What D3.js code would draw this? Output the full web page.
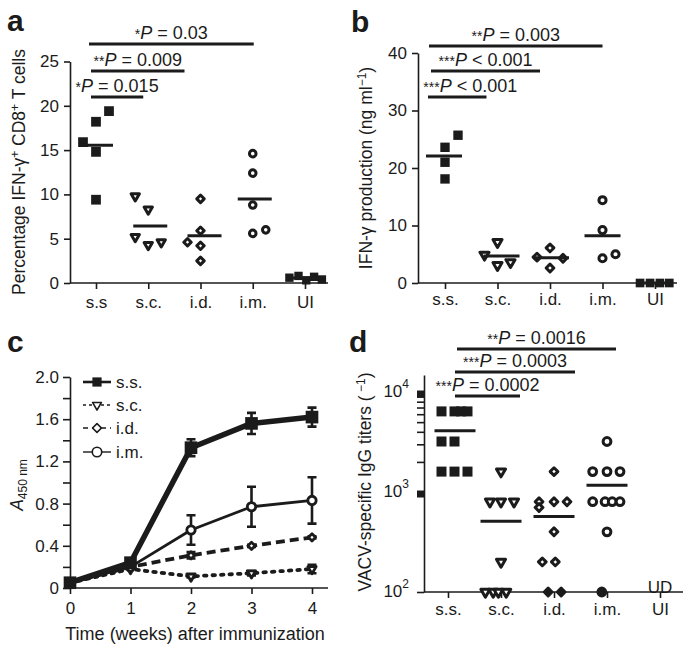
<!DOCTYPE html>
<html>
<head>
<meta charset="utf-8">
<script src="https://cdn.jsdelivr.net/npm/d3@7"></script>
<style>
  body { margin: 0; background: #fff; }
  svg { font-family: "Liberation Sans", Arial, Helvetica, sans-serif; }
</style>
</head>
<body>
<div id="wrapper"></div>
<script>
// ---------- data ----------
const catsA = ["s.s", "s.c.", "i.d.", "i.m.", "UI"]
const cats = ["s.s.", "s.c.", "i.d.", "i.m.", "UI"]

// a: percentage IFN-g+ CD8+ T cells
const pctSS = [15.9, 14.8, 18.2, 19.4, 9.4]
const pctSC = [9.8, 8.3, 5.2, 4.3, 4.6]
const pctID = [9.5, 5.9, 4.6, 4.2, 2.5]
const pctIM = [14.6, 12.4, 8.8, 5.6, 6.0]
const pctUI = [0.6, 0.8, 0.3, 0.7, 0.4]
const pctTicks = [0, 5, 10, 15, 20, 25]
const pctStats = [
  { to: "s.c.", stars: "*", p: " = 0.015" },
  { to: "i.d.", stars: "**", p: " = 0.009" },
  { to: "i.m.", stars: "*", p: " = 0.03" }
]

// b: IFN-g production (ng/ml)
const ifnSS = [25.7, 23.6, 21.0, 18.1]
const ifnSC = [4.9, 7.1, 3.1, 3.6]
const ifnID = [4.5, 6.1, 2.6, 4.3]
const ifnIM = [14.4, 9.2, 4.3, 5.0]
const ifnUI = [0, 0, 0, 0]
const ifnTicks = [0, 10, 20, 30, 40]
const ifnStats = [
  { to: "s.c.", stars: "***", p: " < 0.001" },
  { to: "i.d.", stars: "***", p: " < 0.001" },
  { to: "i.m.", stars: "**", p: " = 0.003" }
]

// c: A450 over time
const weeks = [0, 1, 2, 3, 4]
const a450SS = [0.05, 0.24, 1.33, 1.56, 1.62]
const errSS  = [0, 0.02, 0.08, 0.10, 0.09]
const a450SC = [0.05, 0.18, 0.11, 0.14, 0.18]
const errSC  = [0, 0, 0.01, 0.02, 0.04]
const a450ID = [0.05, 0.20, 0.31, 0.40, 0.48]
const errID  = [0, 0, 0.03, 0.01, 0.01]
const a450IM = [0.05, 0.20, 0.55, 0.77, 0.83]
const errIM  = [0, 0, 0.14, 0.19, 0.22]
const a450Ticks = [0, 0.2, 0.4, 0.6, 0.8, 1.0, 1.2, 1.4, 1.6, 1.8, 2.0]
const legendNames = ["s.s.", "s.c.", "i.d.", "i.m."]

// d: VACV-specific IgG titers
const titerSS = [6400, 6400, 6400, 6400, 3200, 3200, 1600, 1600, 1600]
const titerSC = [1600, 800, 800, 800, 200, 100, 100, 100, 100]
const titerID = [1600, 800, 700, 800, 800, 400, 200, 200, 100, 100]
const titerIM = [3200, 1600, 1600, 1600, 800, 800, 800, 800, 400, 100]
const titerUI = []
const titerMajor = [100, 1000, 10000]
const titerMinor = [2000, 3000, 4000, 5000, 6000, 7000, 8000, 9000]
const titerStats = [
  { to: "s.c.", stars: "***", p: " = 0.0002" },
  { to: "i.d.", stars: "***", p: " = 0.0003" },
  { to: "i.m.", stars: "**", p: " = 0.0016" }
]

// ---------- drawing ----------
const ink = "#1b1b1b"
const tickFont = "17px"
const titleFont = "17.5px"
const svg = d3.select("#wrapper").append("svg")
  .attr("width", 685).attr("height", 645)

function marker(g, shape, x, y, size, filled, sw) {
  const types = { square: d3.symbolSquare, triangle: d3.symbolTriangle, diamond: d3.symbolSquare, circle: d3.symbolCircle }
  const rot = shape === "triangle" ? 180 : shape === "diamond" ? 45 : 0
  g.append("path")
    .attr("d", d3.symbol().type(types[shape]).size(size)())
    .attr("transform", `translate(${x},${y}) rotate(${rot})`)
    .attr("fill", filled ? ink : "#fff")
    .attr("stroke", ink)
    .attr("stroke-width", sw)
    .attr("stroke-linejoin", "round")
}

function styleAxis(sel) {
  sel.selectAll(".domain, line").attr("stroke", ink).attr("stroke-width", 1.6)
  sel.selectAll("text").attr("fill", ink).style("font-size", tickFont)
}

function panelLabel(t, x, y) {
  svg.append("text").attr("x", x).attr("y", y).text(t)
    .style("font-size", "30px").style("font-weight", "bold").attr("fill", ink)
}

function statText(g, x, y, s) {
  const t = g.append("text").attr("x", x).attr("y", y)
    .attr("text-anchor", "middle").attr("fill", ink).style("font-size", "18px")
  t.append("tspan").text(s.stars).style("font-size", "14px")
  t.append("tspan").text("P").style("font-style", "italic")
  t.append("tspan").text(s.p)
}

function yTitle(x, y, parts) {
  const t = svg.append("text")
    .attr("transform", `translate(${x},${y}) rotate(-90)`)
    .attr("text-anchor", "middle").attr("fill", ink).style("font-size", titleFont)
  parts.forEach(p => {
    const ts = t.append("tspan").text(p.t)
    if (p.sup) ts.attr("dy", -6).style("font-size", "12px")
    if (p.sub) ts.attr("dy", 4).style("font-size", "12px")
    if (p.back) ts.attr("dy", p.back)
    if (p.it) ts.style("font-style", "italic")
  })
}

// generic dot plot (panels a, b, d)
function dotPanel(o) {
  const g = svg.append("g")
  const x = d3.scalePoint().domain(o.cats).range(o.xRange)
  const y = o.y
  const y0 = y.range()[0]

  g.append("g").attr("transform", `translate(${o.axisX},0)`)
    .call(o.yAxis).call(styleAxis)

  g.append("line").attr("x1", o.axisX).attr("x2", o.axisEnd)
    .attr("y1", y0).attr("y2", y0)
    .attr("stroke", ink).attr("stroke-width", 1.6)

  g.append("g").attr("transform", `translate(0,${y0})`)
    .call(d3.axisBottom(x).tickSize(6).tickPadding(o.xPad))
    .call(a => a.select(".domain").remove())
    .call(styleAxis)

  o.series.forEach((vals, i) => {
    const cx = x(o.cats[i])
    vals.forEach((v, j) => {
      const filled = o.shapes[i] === "square" || (o.fillLow && v <= o.fillLow && i > 1)
      marker(g, o.shapes[i], cx + o.slots[i][j] * o.slotW, y(v), o.sizes[i], filled,
        o.shapes[i] === "square" ? 0 : 3)
    })
    if (vals.length) {
      const m = d3.mean(vals)
      const mc = cx + o.meanShift[i]
      g.append("line").attr("x1", mc - o.meanW / 2).attr("x2", mc + o.meanW / 2)
        .attr("y1", y(m)).attr("y2", y(m))
        .attr("stroke", ink).attr("stroke-width", 3)
    }
  })

  const x0 = x(o.cats[0])
  o.stats.forEach((s, k) => {
    const x1 = x0 + o.br.x1[k]
    const x2 = x(o.cats[cats.indexOf(s.to)]) + o.br.x2[k]
    g.append("line").attr("x1", x1).attr("x2", x2)
      .attr("y1", o.br.rows[k]).attr("y2", o.br.rows[k])
      .attr("stroke", ink).attr("stroke-width", 3)
    statText(g, (x1 + x2) / 2 + o.br.dx[k], o.br.rows[k] - 5.5, s)
  })
  return { g, x, y }
}

// ---- panel a ----
panelLabel("a", 7, 31)
const yA = d3.scaleLinear().domain([0, 25]).range([283, 61.5])
dotPanel({
  cats: catsA, xRange: [96, 305], y: yA, axisX: 70, axisEnd: 328, xPad: 7,
  yAxis: d3.axisLeft(yA).tickValues(pctTicks).tickSize(6).tickSizeOuter(0).tickPadding(5),
  series: [pctSS, pctSC, pctID, pctIM, pctUI],
  shapes: ["square", "triangle", "diamond", "circle", "square"],
  sizes: [95, 30, 28, 34, 70],
  slots: [[-1, 0, 0, 1, 0], [-1, 0, -1, 0, 1], [0, 0, -1, 0, 0], [0, 0, 0, 0, 1], [-1.2, -0.5, 0.1, 0.7, 1.3]],
  slotW: 13, meanW: 34, meanShift: [0, 2, 4, 2, 0],
  stats: pctStats,
  br: { rows: [97, 71, 44], x1: [-5, -5, -7], x2: [-5, -16, 1], dx: [0, 0, 0] }
})
yTitle(25, 172, [
  { t: "Percentage IFN-γ" }, { t: "+", sup: true }, { t: " CD8", back: 6 },
  { t: "+", sup: true }, { t: " T cells", back: 6 }
])

// ---- panel b ----
panelLabel("b", 351, 32)
const yB = d3.scaleLinear().domain([0, 40]).range([283, 53])
dotPanel({
  cats: cats, xRange: [445, 655], y: yB, axisX: 418, axisEnd: 677, xPad: 4,
  yAxis: d3.axisLeft(yB).tickValues(ifnTicks).tickSize(6).tickSizeOuter(0).tickPadding(5),
  series: [ifnSS, ifnSC, ifnID, ifnIM, ifnUI],
  shapes: ["square", "triangle", "diamond", "circle", "square"],
  sizes: [88, 36, 30, 40, 75],
  slots: [[1, 0, 0, 0], [-1, 0, 0, 1], [-1, 0, 0, 1], [0, 0, 0, 1], [-1.15, -0.38, 0.38, 1.1]],
  slotW: 13, meanW: 36, meanShift: [-1, 4, 1, 0, 0],
  stats: ifnStats,
  br: { rows: [97, 71, 46], x1: [-17, -14, -16], x2: [-11, -10, 0], dx: [13, 0, 0] }
})
yTitle(372, 168, [
  { t: "IFN-γ production (ng ml" }, { t: "−1", sup: true }, { t: ")", back: 6 }
])

// ---- panel c ----
panelLabel("c", 7, 352)
const gc = svg.append("g")
const xC = d3.scaleLinear().domain([0, 4]).range([70, 312])
const yC = d3.scaleLinear().domain([0, 2]).range([588, 377])
gc.append("g").attr("transform", "translate(70,0)")
  .call(d3.axisLeft(yC).tickValues(a450Ticks).tickSize(7).tickSizeOuter(0).tickPadding(4)
    .tickFormat(d => Math.round(d * 10) % 4 === 0 ? (d === 0 ? "0" : d3.format(".1f")(d)) : ""))
  .call(styleAxis)
gc.append("line").attr("x1", 70).attr("x2", 328).attr("y1", 588).attr("y2", 588)
  .attr("stroke", ink).attr("stroke-width", 1.6)
gc.append("g").attr("transform", "translate(0,588)")
  .call(d3.axisBottom(xC).tickValues(weeks).tickSize(6).tickPadding(8).tickFormat(d3.format("d")))
  .call(a => a.select(".domain").remove())
  .call(styleAxis)
svg.append("text").attr("x", 195).attr("y", 640).attr("text-anchor", "middle")
  .attr("fill", ink).style("font-size", "18px").text("Time (weeks) after immunization")
yTitle(23, 485, [{ t: "A", it: true }, { t: "450 nm", sub: true }])

const lineSeries = [
  { vals: a450SC, err: errSC, shape: "triangle", size: 30, filled: false, lw: 3.8, dash: "2.5,6", cap: "round" },
  { vals: a450ID, err: errID, shape: "diamond", size: 26, filled: false, lw: 3.8, dash: "9,5", cap: "butt" },
  { vals: a450IM, err: errIM, shape: "circle", size: 55, filled: false, lw: 2.8, dash: null, cap: "butt" },
  { vals: a450SS, err: errSS, shape: "square", size: 160, filled: true, lw: 5.5, dash: null, cap: "butt" }
]
lineSeries.forEach(s => {
  const line = d3.line().x((d, i) => xC(weeks[i])).y(d => yC(d))
  gc.append("path").datum(s.vals).attr("d", line)
    .attr("fill", "none").attr("stroke", ink).attr("stroke-width", s.lw)
    .attr("stroke-dasharray", s.dash).attr("stroke-linecap", s.cap).attr("stroke-linejoin", "round")
  s.vals.forEach((v, i) => {
    if (s.err[i] > 0) {
      const cx = xC(weeks[i])
      gc.append("path")
        .attr("d", `M${cx},${yC(v - s.err[i])}V${yC(v + s.err[i])}M${cx - 4.5},${yC(v + s.err[i])}H${cx + 4.5}M${cx - 4.5},${yC(v - s.err[i])}H${cx + 4.5}`)
        .attr("stroke", ink).attr("stroke-width", 2.6).attr("fill", "none")
    }
    marker(gc, s.shape, xC(weeks[i]), yC(v), s.size, s.filled, s.filled ? 0 : 2.8)
  })
})

// legend
const legRows = [382, 405, 428, 452]
const legStyle = [
  { shape: "square", size: 85, filled: true, lw: 2.6, dash: null },
  { shape: "triangle", size: 34, filled: false, lw: 1.4, dash: "3,3" },
  { shape: "diamond", size: 40, filled: false, lw: 1.4, dash: "5,4" },
  { shape: "circle", size: 70, filled: false, lw: 1.4, dash: null }
]
legendNames.forEach((name, i) => {
  const y = legRows[i]
  gc.append("line").attr("x1", 83).attr("x2", 111).attr("y1", y).attr("y2", y)
    .attr("stroke", ink).attr("stroke-width", legStyle[i].lw).attr("stroke-dasharray", legStyle[i].dash)
  marker(gc, legStyle[i].shape, 97, y, legStyle[i].size, legStyle[i].filled, legStyle[i].filled ? 0 : 1.6)
  gc.append("text").attr("x", 116).attr("y", y).attr("dy", "0.36em")
    .attr("fill", ink).style("font-size", tickFont).text(name)
})

// ---- panel d ----
panelLabel("d", 349, 352)
const yD = d3.scaleLog().domain([100, 14800]).range([592, 375])
const dPanel = dotPanel({
  cats: cats, xRange: [448, 660], y: yD, axisX: 424, axisEnd: 683, xPad: 5,
  yAxis: d3.axisLeft(yD).tickValues(titerMajor.concat(titerMinor)).tickSize(7).tickSizeOuter(0).tickFormat(""),
  series: [titerSS, titerSC, titerID, titerIM, titerUI],
  shapes: ["square", "triangle", "diamond", "circle", "circle"],
  sizes: [100, 36, 30, 48, 48],
  fillLow: 100,
  slots: [[-0.5, 0.5, 1, 1.5, -0.5, 0.5, -0.5, 0.5, 1.5],
          [0, -0.85, 0, 1, 0, -1.2, -0.6, -0.2, 0.4],
          [0, -1.15, -1.15, 0, 1, 0, -0.9, 0.1, -0.45, 0.55],
          [0, -1.1, 0, 1, -1.1, -0.15, 0.4, 1, 0, -0.4],
          []],
  slotW: 13, meanW: 41, meanShift: [7, 0, 0, 0, 0],
  stats: titerStats,
  br: { rows: [396, 372, 349], x1: [7, 7, 9], x2: [19, 21, 9], dx: [0, 0, 0] }
})
// heavy major ticks at 10^3 and 10^4
titerMajor.filter(v => v > 100).forEach(v => {
  dPanel.g.append("line").attr("x1", 417).attr("x2", 424)
    .attr("y1", yD(v) + 2).attr("y2", yD(v) + 2)
    .attr("stroke", ink).attr("stroke-width", 7)
})
titerMajor.forEach(v => {
  const t = dPanel.g.append("text").attr("x", 409).attr("y", yD(v) + 5)
    .attr("text-anchor", "end").attr("fill", ink).style("font-size", tickFont)
  t.append("tspan").text("10")
  t.append("tspan").text(Math.log10(v)).attr("dy", -9).style("font-size", "12px")
})
dPanel.g.append("text").attr("x", dPanel.x("UI")).attr("y", 587).attr("dy", "0.35em")
  .attr("text-anchor", "middle").attr("fill", ink).style("font-size", tickFont).text("UD")
yTitle(371, 482, [
  { t: "VACV-specific IgG titers (" }, { t: " −1", sup: true }, { t: ")", back: 6 }
])
</script>
</body>
</html>
